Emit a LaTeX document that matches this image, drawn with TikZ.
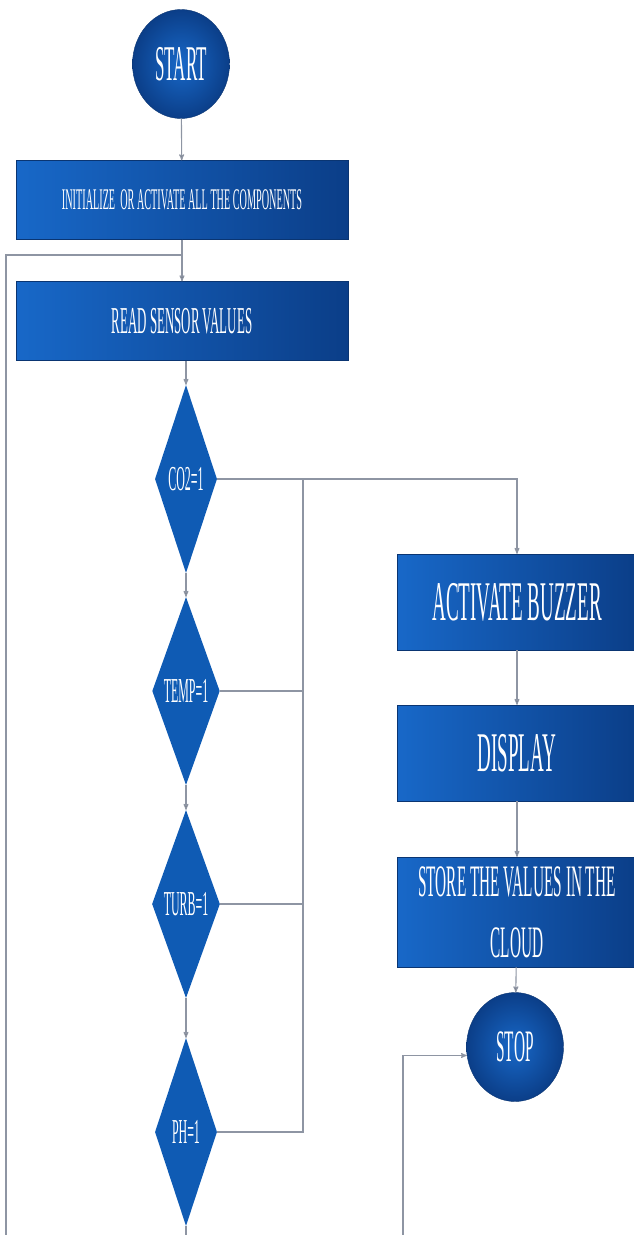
\documentclass[tikz,border=0pt]{standalone}
\usepackage{fontspec}
\newfontfamily\narrowserif[FakeStretch=0.34]{Liberation Serif}
\usetikzlibrary{arrows, shapes.geometric}

\definecolor{boxlight}{HTML}{1868C8}
\definecolor{boxdark}{HTML}{0B3E88}
\definecolor{edgeblue}{HTML}{0A3572}
\definecolor{diamondblue}{HTML}{0F5BB4}
\definecolor{linegray}{HTML}{8E95A3}

\tikzset{
  terminal/.style={ellipse, draw=edgeblue, inner color=boxlight, outer color=boxdark,
    minimum width=97pt, minimum height=109pt, inner sep=0pt, text=white},
  process/.style={rectangle, draw=edgeblue, left color=boxlight, right color=boxdark,
    inner sep=0pt, align=center, text=white},
  decision/.style={diamond, fill=diamondblue, minimum width=62pt, minimum height=188pt,
    inner sep=0pt, text=white, font=\narrowserif\fontsize{35}{35}\selectfont},
  link/.style={draw=linegray, line width=1.1pt}
}

\begin{document}
\begin{tikzpicture}[x=1pt,y=-1pt,>=stealth']
\useasboundingbox (0,0) rectangle (633,1235);

% define the blocks of the chart
  \node[terminal, font=\narrowserif\fontsize{50}{50}\selectfont] (start) at (181,64) {START};
  \node[process, minimum width=332pt, minimum height=79pt,
    font=\narrowserif\fontsize{30}{30}\selectfont] (init) at (182,200)
{INITIALIZE\ \ OR ACTIVATE ALL THE COMPONENTS};
  \node[process, minimum width=332pt, minimum height=79pt,
    font=\narrowserif\fontsize{38}{38}\selectfont] (read) at (182,321)
{READ SENSOR VALUES};

  \node[decision] (co2)  at (186,479)  {CO2=1};
  \node[decision] (temp) at (186,691)  {TEMP=1};
  \node[decision] (turb) at (186,904)  {TURB=1};
  \node[decision] (ph)   at (186,1132) {PH=1};

  \node[process, minimum width=240pt, minimum height=96pt,
    font=\narrowserif\fontsize{56}{56}\selectfont] (buzzer) at (517,602)
{ACTIVATE BUZZER};
  \node[process, minimum width=240pt, minimum height=96pt,
    font=\narrowserif\fontsize{56}{56}\selectfont] (display) at (517,753)
{DISPLAY};
  \node[process, minimum width=240pt, minimum height=110pt,
    font=\narrowserif\fontsize{45}{61}\selectfont] (store) at (517,912)
{STORE THE VALUES IN THE\\CLOUD};
  \node[terminal, font=\narrowserif\fontsize{45}{45}\selectfont] (stop) at (515,1047) {STOP};

% free ends of the lines
  \coordinate (join)    at (303,479);
  \coordinate (loopin)  at (6,255);
  \coordinate (loopbot) at (6,1235);
  \coordinate (phbot)   at (186,1235);
  \coordinate (stopbot) at (403,1235);

% define the links
  \path[->, link] (start) edge (init)
        (init) edge (read)
        (co2) edge (temp)
        (temp) edge (turb)
        (turb) edge (ph)
        (buzzer) edge (display)
        (display) edge (store)
        (store) edge (stop);
  \draw[->, link] (co2 |- read.south) -- (co2.north);
  \draw[link] (ph) -- (phbot);
  \draw[->, link] (co2.east) -| (buzzer.north);
  \draw[link] (temp.east) -| (join);
  \draw[link] (turb.east) -| (join);
  \draw[link] (ph.east) -| (join);
  \draw[link] (loopbot) -- (loopin) -- (loopin -| init.south);
  \draw[->, link] (stopbot) |- (stop.190);

\end{tikzpicture}
\end{document}
